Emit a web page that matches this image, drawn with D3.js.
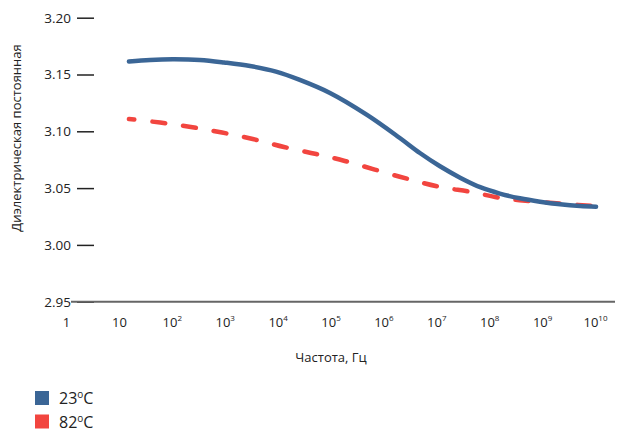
<!DOCTYPE html>
<html>
<head>
<meta charset="utf-8">
<script src="https://cdn.jsdelivr.net/npm/d3@7"></script>
<style>
  body { margin: 0; background: #fff; }
  text { font-family: "Open Sans", "Noto Sans", sans-serif; fill: #222; }
</style>
</head>
<body>
<div id="chart"></div>
<script>
// Frequency points as powers of ten (Hz)
var freqExp23 = [1.19, 1.59, 2.02, 2.53, 2.99, 3.48, 3.97, 4.42, 4.99, 5.69, 6.31, 6.69, 7.07, 7.45, 7.83, 8.20, 8.58, 8.96, 9.34, 9.72, 10.02];
var values23  = [3.1614, 3.1628, 3.1634, 3.1628, 3.1606, 3.1575, 3.1525, 3.1452, 3.1337, 3.1144, 3.0941, 3.0809, 3.0692, 3.0592, 3.0508, 3.0452, 3.0410, 3.0380, 3.0357, 3.0342, 3.0336];

var freqExp82 = [1.19, 1.78, 2.36, 2.95, 3.53, 4.12, 4.73, 5.27, 6.31, 7.05, 7.66, 8.22, 8.85, 9.45, 10.02];
var values82  = [3.1108, 3.1077, 3.1038, 3.0989, 3.0932, 3.0862, 3.0800, 3.0739, 3.0600, 3.0512, 3.0466, 3.0413, 3.0382, 3.0360, 3.0340];

var yTicks = [2.95, 3.00, 3.05, 3.10, 3.15, 3.20];
var xTicks = [1, 1e1, 1e2, 1e3, 1e4, 1e5, 1e6, 1e7, 1e8, 1e9, 1e10];
var xTickLabels = [["1", ""], ["10", ""], ["10", "2"], ["10", "3"], ["10", "4"], ["10", "5"],
                   ["10", "6"], ["10", "7"], ["10", "8"], ["10", "9"], ["10", "10"]];

var seriesNames = ["23", "82"];
var colors = ["#3b6696", "#f2453f"];

var width = 617, height = 432;

var svg = d3.select("#chart").append("svg")
    .attr("width", width)
    .attr("height", height);

var x = d3.scaleLog().domain([1, 1e10]).range([66, 595]);
var y = d3.scaleLinear().domain([2.95, 3.20]).range([301.7, 17.7]);

// Y axis: short ticks with labels to the left
var yAxis = d3.axisLeft(y)
    .tickValues(yTicks)
    .tickSize(17)
    .tickPadding(6)
    .tickFormat(d3.format(".2f"));

var gy = svg.append("g")
    .attr("transform", "translate(94,0)")
    .call(yAxis);
gy.select(".domain").remove();
gy.selectAll(".tick line").attr("stroke", "#222").attr("stroke-width", 1.5);
gy.selectAll(".tick text")
    .style("font-size", "13.5px")
    .style("font-family", "'Open Sans', sans-serif")
    .attr("fill", "#333");

// baseline
svg.append("line")
    .attr("x1", 71).attr("x2", 615)
    .attr("y1", y(2.95)).attr("y2", y(2.95))
    .attr("stroke", "#666")
    .attr("stroke-width", 2);

// X axis labels with superscripts
var xAxis = d3.axisBottom(x)
    .tickValues(xTicks)
    .tickSize(0)
    .tickPadding(16)
    .tickFormat(function() { return ""; });

var gx = svg.append("g")
    .attr("transform", "translate(0," + y(2.95) + ")")
    .call(xAxis);
gx.select(".domain").remove();
gx.selectAll(".tick text").each(function(d, i) {
  var t = d3.select(this)
      .style("font-size", "13px")
      .style("font-family", "'Open Sans', sans-serif")
      .attr("fill", "#333");
  t.append("tspan").text(xTickLabels[i][0]);
  if (xTickLabels[i][1]) {
    t.append("tspan")
      .attr("dy", -6)
      .style("font-size", "8px")
      .text(xTickLabels[i][1]);
  }
});

// axis titles
svg.append("text")
    .attr("x", 331)
    .attr("y", 362)
    .attr("text-anchor", "middle")
    .style("font-size", "13px")
    .text("Частота, Гц");

svg.append("text")
    .attr("transform", "translate(21,138) rotate(-90)")
    .attr("text-anchor", "middle")
    .style("font-size", "13px")
    .text("Диэлектрическая постоянная");

// lines
var line = d3.line()
    .x(function(d) { return x(Math.pow(10, d[0])); })
    .y(function(d) { return y(d[1]); })
    .curve(d3.curveCatmullRom.alpha(0.5));

svg.append("path")
    .datum(d3.zip(freqExp82, values82))
    .attr("fill", "none")
    .attr("stroke", colors[1])
    .attr("stroke-width", 4.5)
    .attr("stroke-linecap", "round")
    .attr("stroke-dasharray", "13,18")
    .attr("stroke-dashoffset", 7.5)
    .attr("d", line);

svg.append("path")
    .datum(d3.zip(freqExp23, values23))
    .attr("fill", "none")
    .attr("stroke", colors[0])
    .attr("stroke-width", 4.5)
    .attr("stroke-linecap", "round")
    .attr("d", line);

// legend
var legend = svg.selectAll(".legend")
    .data(seriesNames)
    .enter().append("g")
    .attr("class", "legend")
    .attr("transform", function(d, i) { return "translate(35," + (391 + i * 23.5) + ")"; });

legend.append("rect")
    .attr("width", 14)
    .attr("height", 14)
    .attr("fill", function(d, i) { return colors[i]; });

var lt = legend.append("text")
    .attr("x", 24)
    .attr("y", 13)
    .style("font-size", "16px");
lt.append("tspan").text(function(d) { return d; });
lt.append("tspan").attr("dy", -6).style("font-size", "10px").text("o");
lt.append("tspan").attr("dy", 6).text("C");
</script>
</body>
</html>
